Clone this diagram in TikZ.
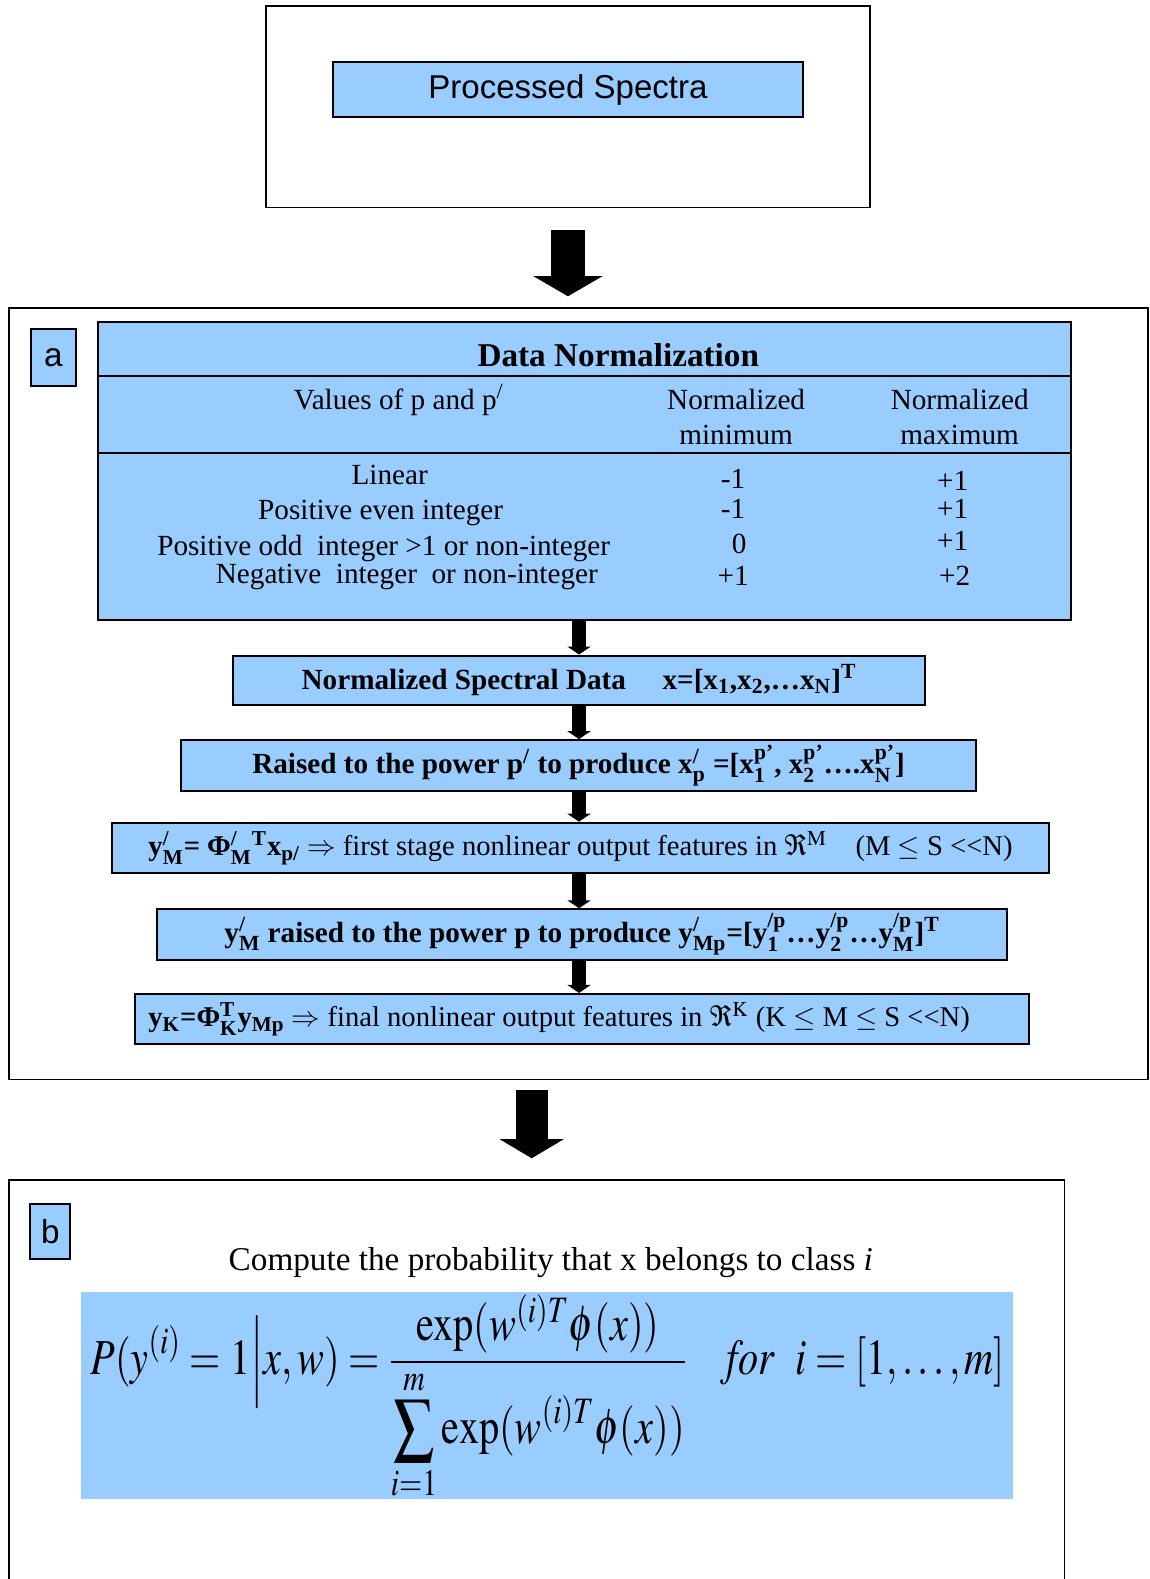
\documentclass[tikz,border=0pt]{standalone}
\usepackage{amsmath}
\usepackage{graphicx}
\usepackage{mathptmx}
\usepackage[no-math]{fontspec}
\setmainfont{Liberation Serif}
\setsansfont{Liberation Sans}
\usetikzlibrary{arrows.meta}
\definecolor{specblue}{RGB}{153,204,255}
\newcommand{\subsup}[2]{\ensuremath{_{\text{#1}}^{\text{#2}}}}
\newcommand{\tabfont}{\fontsize{14.5}{17}\selectfont}
\tikzset{
  panel/.style={draw, line width=0.8pt, inner sep=0pt},
  bluebox/.style={draw, fill=specblue, line width=1pt, inner sep=0pt},
  stepbox/.style={bluebox, minimum height=25pt, font=\tabfont},
  cell/.style={inner sep=0pt, font=\tabfont, align=center},
  tagbox/.style={bluebox, font=\sffamily\fontsize{16.5}{18}\selectfont},
  bigarrow/.style={line width=17pt, -{Triangle[width=34pt,length=10pt]}},
  flowarrow/.style={line width=6.5pt, -{Triangle[width=11.5pt,length=4pt]}}
}
\begin{document}
\begin{tikzpicture}[x=0.5pt,y=-0.5pt]
        \useasboundingbox (0,0) rectangle (1141,1568);
        % Input panel
        \node[panel, minimum width=300pt, minimum height=100pt] (top) at (564,106) {};
        \node[bluebox, minimum width=233pt, minimum height=27pt, font=\sffamily\fontsize{16.4}{18}\selectfont] (spectra) at (564,89) {Processed Spectra};
        % Panel a
        \node[panel, minimum width=565.5pt, minimum height=383pt] (boxa) at (574.5,689) {};
        \node[tagbox, minimum width=22pt, minimum height=28pt] (taga) at (53,355) {a};
        \node[bluebox, minimum width=483.5pt, minimum height=148pt] (tbl) at (580.5,468) {};
        \draw[line width=1pt] (tbl.west |- 0,373) -- (tbl.east |- 0,373);
        \draw[line width=1pt] (tbl.west |- 0,450) -- (tbl.east |- 0,450);
        \node[cell, font=\bfseries\fontsize{16.5}{18}\selectfont] (title) at (614,353) {Data Normalization};
        \node[cell] (hval) at (396,397) {Values of p and p\textsuperscript{/}};
        \node[cell] (hmin) at (731,414) {Normalized\\minimum};
        \node[cell] (hmax) at (953,414) {Normalized\\maximum};
        \node[cell] (rlin) at (387,472) {Linear};
        \node[cell] (reven) at (378,509) {Positive even integer};
        \node[cell] (rodd) at (381,545) {Positive odd\ \ integer >1 or non-integer};
        \node[cell] (rneg) at (404,573) {Negative\ \ integer\ \ or non-integer};
        \node[cell] (minlin) at (728,476) {-1};
        \node[cell] (mineven) at (728,505) {-1};
        \node[cell] (minodd) at (734,540) {0};
        \node[cell] (minneg) at (728,572) {+1};
        \node[cell] (maxlin) at (946,478) {+1};
        \node[cell] (maxeven) at (946,505) {+1};
        \node[cell] (maxodd) at (946,537) {+1};
        \node[cell] (maxneg) at (948,572) {+2};
        % Processing steps
        \node[stepbox, minimum width=344pt, minimum height=24.5pt] (norm) at (575,675.5) {\bfseries Normalized Spectral Data\quad\ x=[x\textsubscript{1},x\textsubscript{2},…x\textsubscript{N}]\textsuperscript{T}};
        \node[stepbox, minimum width=394.5pt] (raise) at (574.5,760) {\bfseries Raised to the power p\textsuperscript{/} to produce x\subsup{p}{/} =[x\subsup{1}{p’}, x\subsup{2}{p’}….x\subsup{N}{p’}]};
        \node[stepbox, minimum width=465.5pt, font=\fontsize{14.2}{17}\selectfont] (first) at (576.5,842) {\textbf{y\subsup{M}{/}= Φ\subsup{M}{/}\textsuperscript{T}x\textsubscript{p/}} $\Rightarrow$ first stage nonlinear output features in $\Re^{\mathrm{M}}$\quad(M $\leq$ S <{}<N)};
        \node[stepbox, minimum width=422pt] (power) at (578,928) {\bfseries y\subsup{M}{/} raised to the power p to produce y\subsup{Mp}{/}=[y\subsup{1}{/p}…y\subsup{2}{/p}…y\subsup{M}{/p}]\textsuperscript{T}};
        \node[stepbox, minimum width=444pt] (final) at (578,1012) {};
        \node[cell, anchor=west, font=\fontsize{14.2}{17}\selectfont] (finaltext) at ([xshift=7pt]final.west) {\textbf{y\textsubscript{K}=Φ\subsup{K}{T}y\textsubscript{Mp}} $\Rightarrow$ final nonlinear output features in $\Re^{\mathrm{K}}$ (K $\leq$ M $\leq$ S <{}<N)};
        % Panel b
        \node[panel, minimum width=524pt, minimum height=214pt] (boxb) at (533,1386) {};
        \node[tagbox, minimum width=20pt, minimum height=27pt] (tagb) at (50,1223) {b};
        \node[cell, font=\fontsize{16.5}{18}\selectfont] (prompt) at (547,1254) {Compute the probability that x belongs to class \textit{i}};
        \node[fill=specblue, inner sep=0pt, minimum width=463pt, minimum height=103pt] (formula) at (543,1386) {};
        \node[inner sep=0pt, font=\fontsize{25}{29}\selectfont] (eq) at (544,1388) {\scalebox{0.8}[1]{$\displaystyle P(y^{(i)}=1\Big|x,w)=\frac{\mathrm{exp}(w^{(i)T}\phi(x))}{\displaystyle\sum_{i=1}^{m}\mathrm{exp}(w^{(i)T}\phi(x))}\quad \mathit{for}\ \ i=[1,\ldots,m]$}};
        % Arrows
        \draw[bigarrow, shorten <=11pt, shorten >=5.5pt] (top.south) -- (top.south |- boxa.north);
        \draw[flowarrow] (tbl.south -| norm.north) -- (norm.north);
        \draw[flowarrow] (norm.south) -- (norm.south |- raise.north);
        \draw[flowarrow] (norm.south |- raise.south) -- (norm.south |- first.north);
        \draw[flowarrow] (norm.south |- first.south) -- (norm.south |- power.north);
        \draw[flowarrow] (norm.south |- power.south) -- (norm.south |- final.north);
        \draw[line width=16pt, -{Triangle[width=31.5pt,length=9.5pt]}, shorten <=5pt, shorten >=10.5pt] ([xshift=-2.5pt]boxb.north |- boxa.south) -- ([xshift=-2.5pt]boxb.north);
\end{tikzpicture}
\end{document}
